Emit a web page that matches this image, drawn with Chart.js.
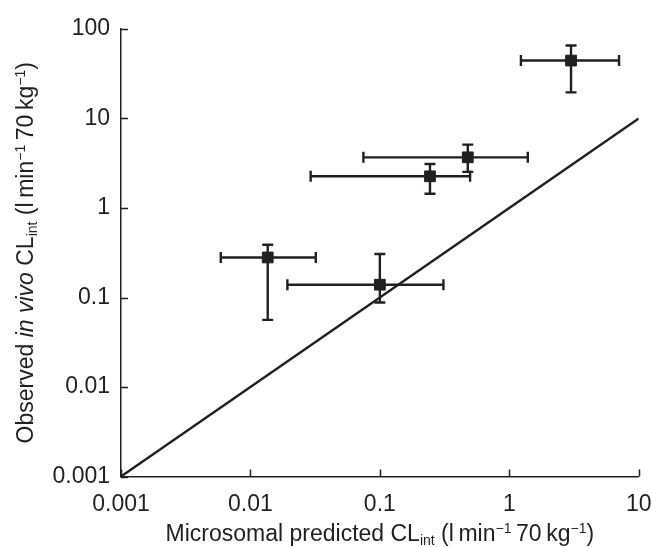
<!DOCTYPE html>
<html>
<head>
<meta charset="utf-8">
<script src="https://cdn.jsdelivr.net/npm/chart.js@4"></script>
<style>
  html, body { margin: 0; padding: 0; background: #fff; }
  #wrap { width: 652px; height: 547px; }
</style>
</head>
<body>
<div id="wrap"><canvas id="clChart"></canvas></div>
<script>
// values (log-log)
const xVals  = [0.0136, 0.100, 0.244, 0.478, 3.00];
const xLow   = [0.0059, 0.0193, 0.0292, 0.0746, 1.23];
const xHigh  = [0.032, 0.31, 0.498, 1.39, 7.05];
const yVals  = [0.28, 0.139, 2.26, 3.68, 44.4];
const yLow   = [0.0563, 0.088, 1.445, 2.53, 19.6];
const yHigh  = [0.389, 0.306, 3.10, 5.10, 65.4];

// line of unity
const unityX = [0.001, 10];
const unityY = [0.001, 10];

const xTicks = [0.001, 0.01, 0.1, 1, 10];
const xTickLabels = ['0.001', '0.01', '0.1', '1', '10'];
const yTicks = [0.001, 0.01, 0.1, 1, 10, 100];
const yTickLabels = ['0.001', '0.01', '0.1', '1', '10', '100'];

const INK = '#231f20';
const FONT = "'Liberation Sans', Arial, Helvetica, sans-serif";

// error bars, behind the square markers
const errorBars = {
    id: 'errorBars',
    beforeDatasetsDraw(chart) {
        const { ctx, scales: { x, y } } = chart;
        const cap = 5.5;
        ctx.save();
        ctx.strokeStyle = INK;
        ctx.lineWidth = 2.4;
        ctx.lineCap = 'butt';
        xVals.forEach((xv, i) => {
            const px = x.getPixelForValue(xv);
            const py = y.getPixelForValue(yVals[i]);
            const x0 = x.getPixelForValue(xLow[i]);
            const x1 = x.getPixelForValue(xHigh[i]);
            const y0 = y.getPixelForValue(yLow[i]);
            const y1 = y.getPixelForValue(yHigh[i]);
            ctx.beginPath();
            ctx.moveTo(x0, py); ctx.lineTo(x1, py);
            ctx.moveTo(x0, py - cap); ctx.lineTo(x0, py + cap);
            ctx.moveTo(x1, py - cap); ctx.lineTo(x1, py + cap);
            ctx.moveTo(px, y0); ctx.lineTo(px, y1);
            ctx.moveTo(px - cap, y0); ctx.lineTo(px + cap, y0);
            ctx.moveTo(px - cap, y1); ctx.lineTo(px + cap, y1);
            ctx.stroke();
        });
        ctx.restore();
    }
};

// inward tick marks
const innerTicks = {
    id: 'innerTicks',
    afterDraw(chart) {
        const { ctx, chartArea: a, scales: { x, y } } = chart;
        const len = 7;
        ctx.save();
        ctx.strokeStyle = INK;
        ctx.lineWidth = 1.5;
        ctx.beginPath();
        xTicks.forEach(v => {
            const px = Math.round(x.getPixelForValue(v)) + 0.5;
            ctx.moveTo(px, a.bottom); ctx.lineTo(px, a.bottom - len);
        });
        yTicks.forEach(v => {
            const py = Math.round(y.getPixelForValue(v)) + 0.5;
            ctx.moveTo(a.left, py); ctx.lineTo(a.left + len, py);
        });
        ctx.stroke();
        ctx.restore();
    }
};

// axis titles with italics, sub- and superscripts
function drawRich(ctx, parts, x, y) {
    const main = 23, small = 14;
    const fontFor = p => (p.i ? 'italic ' : '') + (p.sub || p.sup ? small : main) + 'px ' + FONT;
    let w = 0;
    parts.forEach(p => { ctx.font = fontFor(p); w += ctx.measureText(p.t).width; });
    let cx = x - w / 2;
    parts.forEach(p => {
        ctx.font = fontFor(p);
        const dy = p.sub ? 4 : (p.sup ? -8.5 : 0);
        ctx.fillText(p.t, cx, y + dy);
        cx += ctx.measureText(p.t).width;
    });
}

const axisTitles = {
    id: 'axisTitles',
    afterDraw(chart) {
        const { ctx, chartArea: a } = chart;
        ctx.save();
        ctx.fillStyle = INK;
        ctx.textBaseline = 'alphabetic';
        ctx.textAlign = 'left';
        drawRich(ctx, [
            { t: 'Microsomal predicted CL' }, { t: 'int', sub: true },
            { t: ' (l\u2009min' }, { t: '\u22121', sup: true },
            { t: '\u200970\u2009kg' }, { t: '\u22121', sup: true }, { t: ')' }
        ], (a.left + a.right) / 2, 541);
        ctx.translate(33, (a.top + a.bottom) / 2);
        ctx.rotate(-Math.PI / 2);
        drawRich(ctx, [
            { t: 'Observed ' }, { t: 'in vivo', i: true }, { t: ' CL' }, { t: 'int', sub: true },
            { t: ' (l\u2009min' }, { t: '\u22121', sup: true },
            { t: '\u200970\u2009kg' }, { t: '\u22121', sup: true }, { t: ')' }
        ], 0, 0);
        ctx.restore();
    }
};

const axisBase = {
    type: 'logarithmic',
    border: { display: true, color: INK, width: 1.5 },
    grid: { display: true, drawOnChartArea: false, drawTicks: false },
};

new Chart(document.getElementById('clChart'), {
    type: 'scatter',
    data: {
        datasets: [
            {
                label: 'unity',
                type: 'line',
                data: unityX.map((v, i) => ({ x: v, y: unityY[i] })),
                borderColor: INK,
                borderWidth: 2.4,
                pointRadius: 0,
                fill: false,
                order: 2
            },
            {
                label: 'CLint',
                data: xVals.map((v, i) => ({ x: v, y: yVals[i] })),
                pointStyle: 'rect',
                pointRadius: 7.6,
                pointHoverRadius: 7.6,
                backgroundColor: INK,
                borderColor: INK,
                borderWidth: 1,
                order: 1
            }
        ]
    },
    options: {
        responsive: true,
        maintainAspectRatio: false,
        animation: false,
        events: [],
        layout: { padding: { top: 29, right: 0, bottom: 0, left: 0 } },
        plugins: { legend: { display: false }, tooltip: { enabled: false } },
        scales: {
            x: {
                ...axisBase,
                min: 0.001, max: 10,
                afterBuildTicks: s => { s.ticks = xTicks.map(v => ({ value: v })); },
                afterFit: s => { s.height = 70.5; s.paddingRight = 13.3; },
                ticks: {
                    autoSkip: false, maxRotation: 0, padding: 14, color: INK,
                    font: { family: FONT, size: 23 },
                    callback: (v, i) => xTickLabels[i]
                }
            },
            y: {
                ...axisBase,
                min: 0.001, max: 100,
                afterBuildTicks: s => { s.ticks = yTicks.map(v => ({ value: v })); },
                afterFit: s => { s.width = 121; },
                ticks: {
                    autoSkip: false, padding: 11, color: INK,
                    font: { family: FONT, size: 23 },
                    callback: (v, i) => yTickLabels[i]
                }
            }
        }
    },
    plugins: [errorBars, innerTicks, axisTitles]
});
</script>
</body>
</html>
